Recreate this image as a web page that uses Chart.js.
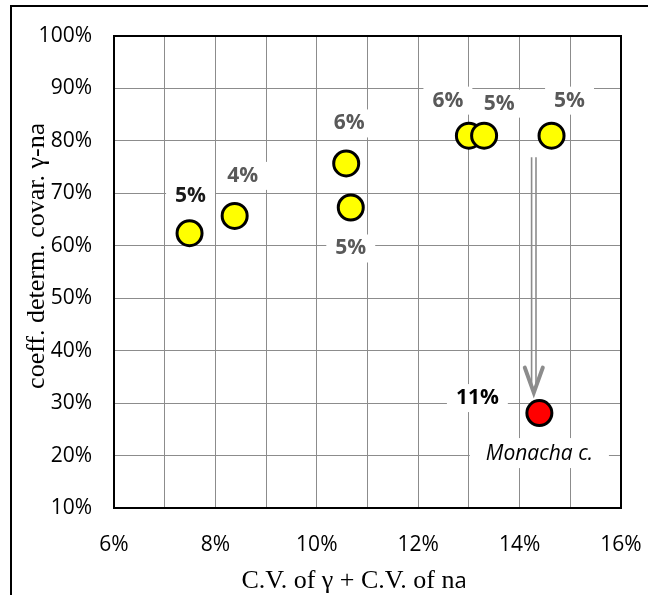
<!DOCTYPE html>
<html>
<head>
<meta charset="utf-8">
<script src="https://cdn.jsdelivr.net/npm/chart.js@4"></script>
<style>
  body { margin: 0; background: #fff; }
  canvas { display: block; }
</style>
</head>
<body>
<canvas id="chart" width="648" height="595"></canvas>
<script>
// C.V. of gamma + C.V. of na (x, %) vs coeff. determ. covar. (y, %)
const cvSum = [7.49, 8.38, 10.58, 10.67, 13.0, 13.3, 14.63];
const coeffDet = [62.4, 65.7, 75.7, 67.3, 81.0, 81.0, 81.0];
const pointLabels = ['5%', '4%', '6%', '5%', '6%', '5%', '5%'];

const monachaX = [14.39];
const monachaY = [28.1];
const monachaLabel = ['11%'];
const monachaName = 'Monacha c.';

// arrow from the cluster down to Monacha c.
const arrowX = 14.28;
const arrowFromY = 76.9;
const arrowToY = 32.0;

const xTicks = [6, 8, 10, 12, 14, 16];

// label placement (px offsets from point centre)
const labelOffsets = [[1, -37], [8, -40], [3, -40], [0, 41], [-21, -35], [15, -32], [18, -35]];
const labelColors = ['#1a1a1a', '#595959', '#595959', '#595959', '#595959', '#595959', '#595959'];

const SERIF = '26px "Liberation Serif"';
const SANS_A = '22px "Open Sans"';

const ctx = document.getElementById('chart');

function boxLabel(c, text, x, y, font, color) {
  c.font = font;
  const w = c.measureText(text).width;
  c.fillStyle = '#ffffff';
  c.fillRect(x - w / 2 - 9, y - 14, w + 18, 28);
  c.fillStyle = color;
  c.textAlign = 'center';
  c.textBaseline = 'middle';
  c.fillText(text, x, y);
}

// title text where the trailing "a" of "na" is set in a sans font
function mixedTitle(c, text, cx, cy) {
  c.font = SERIF;
  const w1 = c.measureText(text).width;
  c.font = SANS_A;
  const w2 = c.measureText('a').width;
  let x = cx - (w1 + w2) / 2;
  c.textAlign = 'left';
  c.textBaseline = 'alphabetic';
  c.font = SERIF;
  c.fillText(text, x, cy + 8);
  c.font = SANS_A;
  c.fillText('a', x + w1, cy + 8);
}

const decorations = {
  id: 'decorations',
  beforeDatasetsDraw(chart) {
    const c = chart.ctx;
    const xs = chart.scales.x, ys = chart.scales.y;
    const a = chart.chartArea;
    c.save();
    // data labels with white boxes
    cvSum.forEach((v, i) => {
      const px = xs.getPixelForValue(v) + labelOffsets[i][0];
      const py = ys.getPixelForValue(coeffDet[i]) + labelOffsets[i][1];
      boxLabel(c, pointLabels[i], px, py, 'bold 21px "Open Sans"', labelColors[i]);
    });
    const mx = xs.getPixelForValue(monachaX[0]);
    const my = ys.getPixelForValue(monachaY[0]);
    boxLabel(c, monachaLabel[0], mx - 62, my - 15, 'bold 21px "Open Sans"', '#000000');
    c.font = 'italic 21px "Open Sans"';
    const w = c.measureText(monachaName).width;
    c.fillStyle = '#ffffff';
    c.fillRect(mx - w / 2 - 16, my + 25, w + 32, 30);
    c.fillStyle = '#000000';
    c.textAlign = 'center';
    c.textBaseline = 'middle';
    c.fillText(monachaName, mx, my + 41);

    // double-line arrow
    const ax = xs.getPixelForValue(arrowX);
    const ay1 = ys.getPixelForValue(arrowFromY);
    const ay2 = ys.getPixelForValue(arrowToY);
    c.strokeStyle = '#8c8c8c';
    c.lineWidth = 1.6;
    c.beginPath();
    c.moveTo(ax - 2.2, ay1); c.lineTo(ax - 2.2, ay2 - 6);
    c.moveTo(ax + 2.2, ay1); c.lineTo(ax + 2.2, ay2 - 6);
    c.stroke();
    c.lineWidth = 4;
    c.lineCap = 'round';
    c.lineJoin = 'miter';
    c.beginPath();
    c.moveTo(ax - 9, ay2 - 25);
    c.lineTo(ax, ay2);
    c.lineTo(ax + 9, ay2 - 25);
    c.stroke();

    // plot border
    c.strokeStyle = '#000000';
    c.lineWidth = 2;
    c.lineCap = 'butt';
    c.strokeRect(a.left, a.top, a.right - a.left, a.bottom - a.top);
    c.restore();
  },
  afterDraw(chart) {
    const c = chart.ctx;
    c.save();
    // outer frame
    c.strokeStyle = '#000000';
    c.lineWidth = 2;
    c.strokeRect(11, 6, 700, 700);
    // axis titles
    c.fillStyle = '#000000';
    mixedTitle(c, 'C.V. of \u03b3 + C.V. of n', 354, 580);
    c.translate(36, 256);
    c.rotate(-Math.PI / 2);
    mixedTitle(c, 'coeff. determ. covar. \u03b3-n', 0, 0);
    c.restore();
  }
};

new Chart(ctx, {
  type: 'scatter',
  data: {
    datasets: [{
      label: 'species',
      data: cvSum.map((v, i) => ({ x: v, y: coeffDet[i] })),
      backgroundColor: '#ffff00',
      borderColor: '#000000',
      borderWidth: 3,
      pointRadius: 12.5
    }, {
      label: monachaName,
      data: monachaX.map((v, i) => ({ x: v, y: monachaY[i] })),
      backgroundColor: '#ff0000',
      borderColor: '#000000',
      borderWidth: 3,
      pointRadius: 12.5
    }]
  },
  options: {
    responsive: false,
    animation: false,
    layout: { padding: { top: 36, right: 27, left: 0, bottom: 0 } },
    scales: {
      x: {
        type: 'linear',
        min: 6,
        max: 16,
        afterFit: axis => { axis.height = 87; axis.paddingLeft = 0; axis.paddingRight = 0; },
        ticks: {
          stepSize: 1,
          autoSkip: false,
          maxRotation: 0,
          padding: 24,
          color: '#000000',
          font: { family: 'Open Sans', size: 21 },
          callback: v => xTicks.includes(v) ? v + '%' : ''
        },
        grid: { color: '#8c8c8c', lineWidth: 1, drawTicks: false },
        border: { display: false }
      },
      y: {
        min: 10,
        max: 100,
        afterFit: axis => { axis.width = 114; axis.paddingTop = 0; axis.paddingBottom = 0; },
        ticks: {
          stepSize: 10,
          padding: 22,
          color: '#000000',
          font: { family: 'Open Sans', size: 21 },
          callback: v => v + '%'
        },
        grid: { color: '#8c8c8c', lineWidth: 1, drawTicks: false },
        border: { display: false }
      }
    },
    plugins: {
      legend: { display: false },
      tooltip: { enabled: false }
    }
  },
  plugins: [decorations]
});
</script>
</body>
</html>
